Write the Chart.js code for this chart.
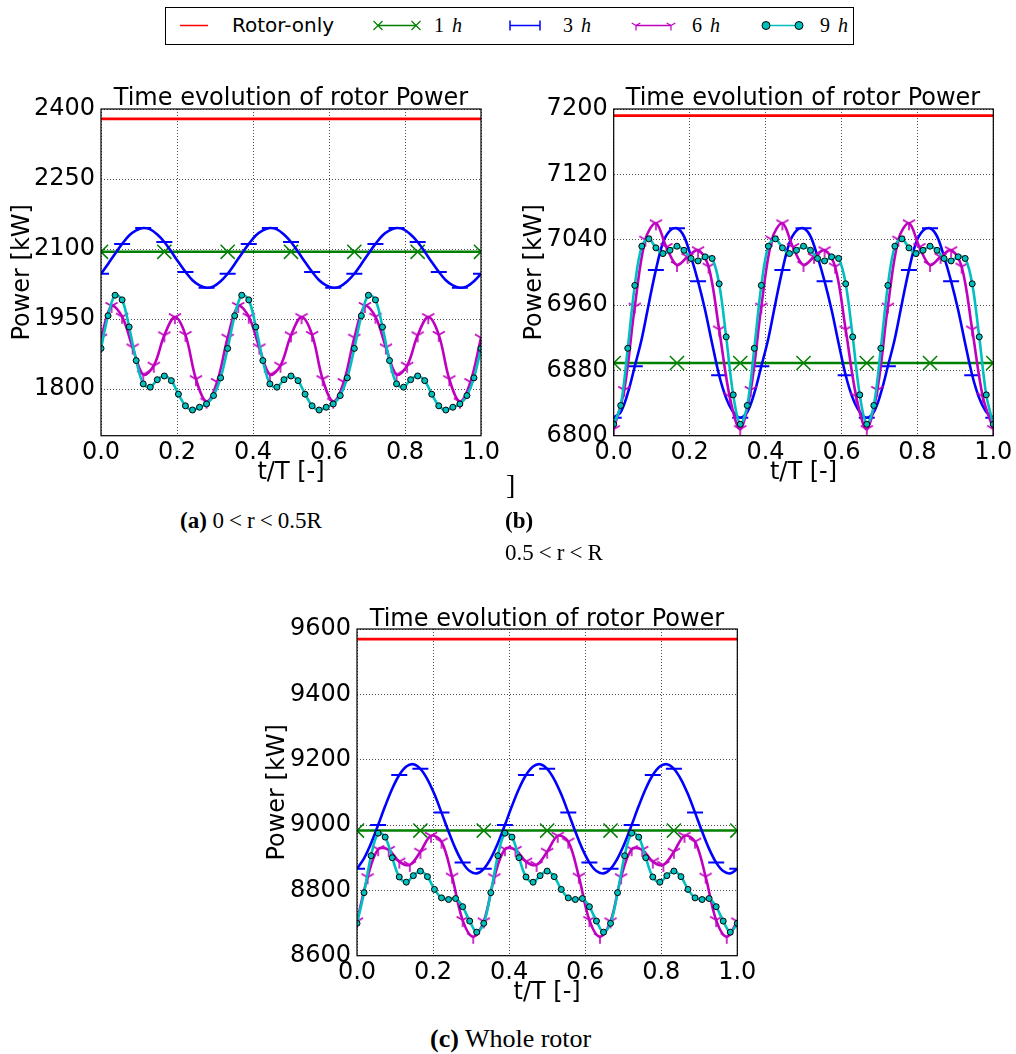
<!DOCTYPE html>
<html>
<head>
<meta charset="utf-8">
<script src="https://cdn.jsdelivr.net/npm/chart.js@4.4.0/dist/chart.umd.min.js"></script>
<style>
  body { margin: 0; width: 1016px; height: 1054px; background: #fff; position: relative; overflow: hidden; }
  .panel { position: absolute; }
  .ttl { position: absolute; width: 500px; text-align: center; font: 24px "DejaVu Sans"; line-height: 24px; white-space: nowrap; color: #000; }
  .cap { position: absolute; font-family: "Liberation Serif"; white-space: nowrap; color: #000; }
  .rel { margin: 0 5px; }
</style>
</head>
<body>

<svg id="legend" width="1016" height="60" style="position:absolute;left:0;top:0">
  <rect x="165.5" y="7.5" width="688" height="37" fill="#fff" stroke="#000" stroke-width="1"/>
  <line x1="180" y1="25.5" x2="208" y2="25.5" stroke="#ff0000" stroke-width="1.5"/>
  <text x="232" y="32" font-family="DejaVu Sans" font-size="20">Rotor-only</text>

  <line x1="378" y1="25.5" x2="416" y2="25.5" stroke="#008000" stroke-width="1.5"/>
  <path d="M373.5 21 L382.5 30 M373.5 30 L382.5 21 M411.5 21 L420.5 30 M411.5 30 L420.5 21" stroke="#008000" stroke-width="1.2"/>
  <text y="32" font-family="Liberation Serif" font-size="20"><tspan x="434">1</tspan><tspan x="452" font-style="italic">h</tspan></text>

  <line x1="510" y1="25.5" x2="540" y2="25.5" stroke="#0000ff" stroke-width="1.5"/>
  <path d="M510 20.5 L510 30.5 M540 20.5 L540 30.5" stroke="#0000ff" stroke-width="1.5"/>
  <text y="32" font-family="Liberation Serif" font-size="20"><tspan x="563">3</tspan><tspan x="581" font-style="italic">h</tspan></text>

  <line x1="636" y1="25.5" x2="671" y2="25.5" stroke="#bf00bf" stroke-width="1.5"/>
  <path d="M636 25.5 L636 30.5 M636 25.5 L631.7 23 M636 25.5 L640.3 23 M671 25.5 L671 30.5 M671 25.5 L666.7 23 M671 25.5 L675.3 23" stroke="#bf00bf" stroke-width="1.2"/>
  <text y="32" font-family="Liberation Serif" font-size="20"><tspan x="692">6</tspan><tspan x="710" font-style="italic">h</tspan></text>

  <line x1="766" y1="25.5" x2="799" y2="25.5" stroke="#00bfbf" stroke-width="1.5"/>
  <circle cx="766" cy="25.5" r="4" fill="#00bfbf" stroke="#000" stroke-width="1"/>
  <circle cx="799" cy="25.5" r="4" fill="#00bfbf" stroke="#000" stroke-width="1"/>
  <text y="32" font-family="Liberation Serif" font-size="20"><tspan x="820">9</tspan><tspan x="838" font-style="italic">h</tspan></text>
</svg>

<div class="panel" style="left:0;top:80px"><canvas id="chartA" width="520" height="420"></canvas></div>
<div class="panel" style="left:510px;top:80px"><canvas id="chartB" width="506" height="420"></canvas></div>
<div class="panel" style="left:250px;top:600px"><canvas id="chartC" width="520" height="420"></canvas></div>

<div class="ttl" style="left:41px;top:85px">Time evolution of rotor Power</div>
<div class="ttl" style="left:553px;top:85px">Time evolution of rotor Power</div>
<div class="ttl" style="left:297px;top:606px">Time evolution of rotor Power</div>

<div class="cap" style="left:506px;top:471px;font-size:28px;line-height:28px">]</div>
<div class="cap" style="left:180px;top:509px;font-size:23px;line-height:23px"><b>(a)</b> 0<span class="rel">&lt;</span>r<span class="rel">&lt;</span>0.5R</div>
<div class="cap" style="left:505px;top:509px;font-size:23px;line-height:23px"><b>(b)</b></div>
<div class="cap" style="left:505px;top:541px;font-size:23px;line-height:23px">0.5<span class="rel">&lt;</span>r<span class="rel">&lt;</span>R</div>
<div class="cap" style="left:430px;top:1026px;font-size:26px;line-height:26px"><b>(c)</b> Whole rotor</div>

<script>
// Valeurs, t/T de 0 a 1
const xTicks = [0, 0.2, 0.4, 0.6, 0.8, 1.0];

// (a) 0<r<0.5R
const yTicksA = [1800, 1950, 2100, 2250, 2400];
const rotorA = [2379, 2379];
const h1A = [2094, 2094, 2094, 2094, 2094, 2094, 2094];
const h3A = [2047, 2068, 2090, 2111, 2129, 2140, 2145, 2142, 2131, 2115, 2094, 2072, 2051, 2033, 2022, 2017, 2020, 2031,
             2047, 2068, 2090, 2111, 2129, 2140, 2145, 2142, 2131, 2115, 2094, 2072, 2051, 2033, 2022, 2017, 2020, 2031,
             2047, 2068, 2090, 2111, 2129, 2140, 2145, 2142, 2131, 2115, 2094, 2072, 2051, 2033, 2022, 2017, 2020, 2031, 2047];
const h6A = [1910, 1978, 1955, 1889, 1831, 1850, 1915, 1954, 1916, 1821, 1773, 1815,
             1910, 1978, 1955, 1889, 1831, 1850, 1915, 1954, 1916, 1821, 1773, 1815,
             1910, 1978, 1955, 1889, 1831, 1850, 1915, 1954, 1916, 1821, 1773, 1815, 1910];
const h9A = [1887, 1957, 2001, 1991, 1933, 1861, 1811, 1804, 1820, 1828, 1818, 1789, 1764, 1755, 1761, 1768, 1786, 1824,
             1887, 1957, 2001, 1991, 1933, 1861, 1811, 1804, 1820, 1828, 1818, 1789, 1764, 1755, 1761, 1768, 1786, 1824,
             1887, 1957, 2001, 1991, 1933, 1861, 1811, 1804, 1820, 1828, 1818, 1789, 1764, 1755, 1761, 1768, 1786, 1824, 1887];

// (b) 0.5<r<R
const yTicksB = [6800, 6880, 6960, 7040, 7120, 7200];
const rotorB = [7192, 7192];
const h1B = [6889, 6889, 6889, 6889, 6889, 6889, 6889];
const h3B = [6822, 6829, 6852, 6885, 6919, 6962, 7003, 7036, 7051, 7054, 7044, 7019, 6989, 6954, 6913, 6874, 6846, 6829,
             6822, 6829, 6852, 6885, 6919, 6962, 7003, 7036, 7051, 7054, 7044, 7019, 6989, 6954, 6913, 6874, 6846, 6829,
             6822, 6829, 6852, 6885, 6919, 6962, 7003, 7036, 7051, 7054, 7044, 7019, 6989, 6954, 6913, 6874, 6846, 6829, 6822];
const h6B = [6808, 6856, 6958, 7040, 7060, 7031, 7009, 7019, 7027, 7007, 6930, 6848,
             6808, 6856, 6958, 7040, 7060, 7031, 7009, 7019, 7027, 7007, 6930, 6848,
             6808, 6856, 6958, 7040, 7060, 7031, 7009, 7019, 7027, 7007, 6930, 6848, 6808];
const h9B = [6814, 6837, 6907, 6984, 7032, 7041, 7030, 7023, 7027, 7032, 7027, 7017, 7014, 7019, 7017, 6986, 6921, 6850,
             6814, 6837, 6907, 6984, 7032, 7041, 7030, 7023, 7027, 7032, 7027, 7017, 7014, 7019, 7017, 6986, 6921, 6850,
             6814, 6837, 6907, 6984, 7032, 7041, 7030, 7023, 7027, 7032, 7027, 7017, 7014, 7019, 7017, 6986, 6921, 6850, 6814];

// (c) rotor entier
const yTicksC = [8600, 8800, 9000, 9200, 9400, 9600];
const rotorC = [9569, 9569];
const h1C = [8983, 8983, 8983, 8983, 8983, 8983, 8983];
const h3C = [8866, 8898, 8944, 9000, 9058, 9111, 9153, 9179, 9186, 9172, 9140, 9094, 9038, 8980, 8927, 8885, 8859, 8852,
             8866, 8898, 8944, 9000, 9058, 9111, 9153, 9179, 9186, 9172, 9140, 9094, 9038, 8980, 8927, 8885, 8859, 8852,
             8866, 8898, 8944, 9000, 9058, 9111, 9153, 9179, 9186, 9172, 9140, 9094, 9038, 8980, 8927, 8885, 8859, 8852, 8866];
const h6C = [8705, 8840, 8926, 8924, 8888, 8878, 8918, 8967, 8949, 8842, 8709, 8658,
             8705, 8840, 8926, 8924, 8888, 8878, 8918, 8967, 8949, 8842, 8709, 8658,
             8705, 8840, 8926, 8924, 8888, 8878, 8918, 8967, 8949, 8842, 8709, 8658, 8705];
const h9C = [8699, 8793, 8906, 8975, 8963, 8900, 8841, 8825, 8845, 8859, 8842, 8803, 8777, 8772, 8775, 8750, 8706, 8672,
             8699, 8793, 8906, 8975, 8963, 8900, 8841, 8825, 8845, 8859, 8842, 8803, 8777, 8772, 8775, 8750, 8706, 8672,
             8699, 8793, 8906, 8975, 8963, 8900, 8841, 8825, 8845, 8859, 8842, 8803, 8777, 8772, 8775, 8750, 8706, 8672, 8699];

// Couleurs (style matplotlib)
const RED = "#ff0000", GREEN = "#008000", BLUE = "#0000ff", MAG = "#bf00bf", CYAN = "#00bfbf";
const FONT = { family: "DejaVu Sans", size: 24 };

// echantillons repartis sur t/T = 0..1
const pts = (ys) => ys.map((y, i) => ({ x: i / (ys.length - 1), y: y }));

// marqueur "tri_down" en Y
function triMarker(color) {
  const c = document.createElement("canvas");
  c.width = 18; c.height = 18;
  const g = c.getContext("2d");
  g.strokeStyle = color; g.lineWidth = 1.6;
  g.beginPath();
  g.moveTo(9, 9); g.lineTo(9, 16);
  g.moveTo(9, 9); g.lineTo(2.9, 5.5);
  g.moveTo(9, 9); g.lineTo(15.1, 5.5);
  g.stroke();
  return c;
}
const tri = triMarker(MAG);

// cadre noir autour de la zone de trace
const frame = {
  id: "frame",
  afterDatasetsDraw(chart) {
    const { ctx, chartArea: a } = chart;
    ctx.save();
    ctx.strokeStyle = "#000";
    ctx.lineWidth = 1.2;
    ctx.strokeRect(a.left, a.top, a.right - a.left, a.bottom - a.top);
    ctx.restore();
  },
};

function makeChart(id, series, yTicks, yMin, yMax, yWidth, yTitlePad, padRight) {
  return new Chart(document.getElementById(id).getContext("2d"), {
    type: "line",
    data: {
      datasets: [
        { label: "Rotor-only", data: pts(series.rotor), borderColor: RED, borderWidth: 2.8, pointRadius: 0, order: 5 },
        { label: "1 h", data: pts(series.h1), borderColor: GREEN, borderWidth: 2.6,
          pointStyle: "crossRot", pointRadius: 10, pointBorderColor: GREEN, pointBorderWidth: 1.5, order: 4 },
        { label: "3 h", data: pts(series.h3), borderColor: BLUE, borderWidth: 2.6,
          pointStyle: "line", pointRadius: (c) => (c.dataIndex % 3 === 0 ? 8 : 0),
          pointBorderColor: BLUE, pointBorderWidth: 2, order: 3 },
        { label: "6 h", data: pts(series.h6), borderColor: MAG, borderWidth: 2.6,
          pointStyle: tri, pointRadius: 5, order: 2 },
        { label: "9 h", data: pts(series.h9), borderColor: CYAN, borderWidth: 2.6,
          pointStyle: "circle", pointRadius: 3, pointBackgroundColor: CYAN,
          pointBorderColor: "#000", pointBorderWidth: 1, order: 1 },
      ],
    },
    options: {
      responsive: false,
      animation: false,
      elements: { line: { tension: 0.35, fill: false } },
      layout: { padding: { top: 29, right: padRight, left: 0, bottom: 0 } },
      plugins: { legend: { display: false }, tooltip: { enabled: false } },
      scales: {
        x: {
          type: "linear", min: 0, max: 1,
          afterFit: (s) => { s.height = 64.3; },
          afterBuildTicks: (s) => { s.ticks = xTicks.map((v) => ({ value: v })); },
          ticks: { color: "#000", font: FONT, padding: 3, maxRotation: 0, autoSkip: false,
                   callback: (v) => Number(v).toFixed(1) },
          grid: { color: "rgba(0,0,0,0.7)", lineWidth: 1, drawTicks: false },
          border: { display: false, dash: [1, 2] },
          title: { display: true, text: "t/T [-]", color: "#000", font: FONT, padding: { top: 0, bottom: 12.6 } },
        },
        y: {
          type: "linear", min: yMin, max: yMax,
          afterFit: (s) => { s.width = yWidth; },
          afterBuildTicks: (s) => { s.ticks = yTicks.map((v) => ({ value: v })); },
          ticks: { color: "#000", font: FONT, padding: 6, autoSkip: false, callback: (v) => String(v) },
          grid: { color: "rgba(0,0,0,0.7)", lineWidth: 1, drawTicks: false },
          border: { display: false, dash: [1, 2] },
          title: { display: true, text: "Power [kW]", color: "#000", font: FONT, padding: { top: yTitlePad, bottom: 0 } },
        },
      },
    },
    plugins: [frame],
  });
}

makeChart("chartA", { rotor: rotorA, h1: h1A, h3: h3A, h6: h6A, h9: h9A }, yTicksA, 1700, 2400, 101, 8, 39);
makeChart("chartB", { rotor: rotorB, h1: h1B, h3: h3B, h6: h6B, h9: h9B }, yTicksB, 6800, 7200, 103.7, 10.3, 22.7);
makeChart("chartC", { rotor: rotorC, h1: h1C, h3: h3C, h6: h6C, h9: h9C }, yTicksC, 8600, 9600, 107, 13.6, 32.7);
</script>
</body>
</html>
